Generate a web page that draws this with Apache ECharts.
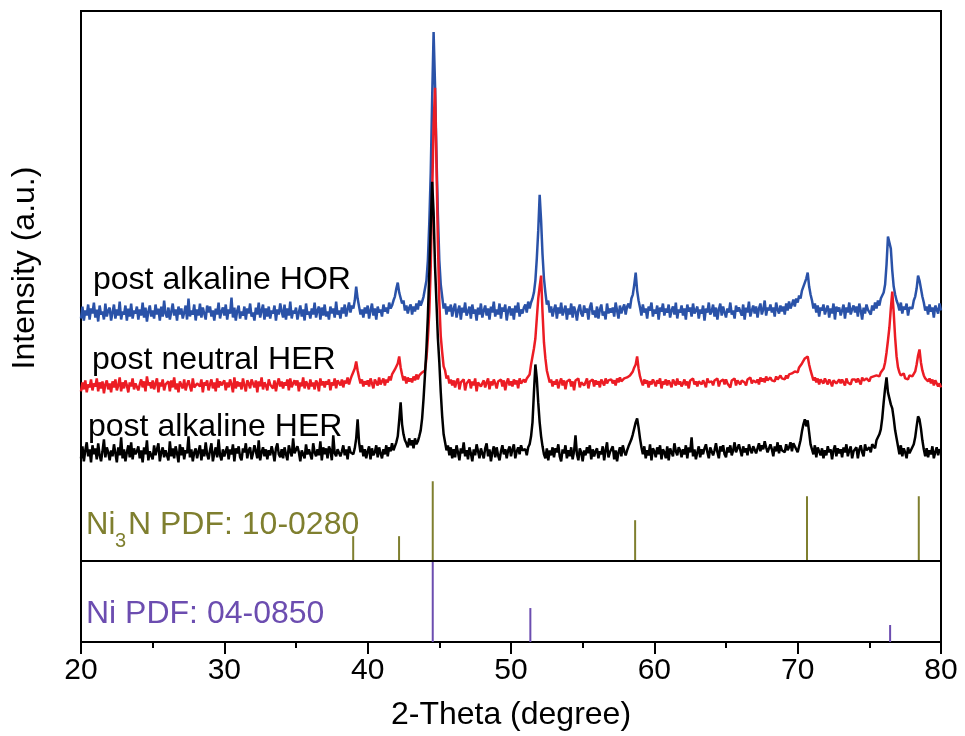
<!DOCTYPE html>
<html>
<head>
<meta charset="utf-8">
<script src="https://cdn.jsdelivr.net/npm/echarts@6/dist/echarts.min.js"></script>
<style>
  html, body { margin: 0; padding: 0; background: #fff; }
  #chart { width: 965px; height: 736px; }
</style>
</head>
<body>
<div id="chart"></div>
<script>
// 2-theta grid of the scans: 20.0 .. 80.0 deg, step 0.1
const X_START = 20;
const X_STEP = 0.1;

// intensities above each trace's own baseline (a.u.), one row per degree
const postAlkalineHOR = [
  4,16,2,12,7,18,3,14,9,20,
  5,13,1,17,8,11,3,19,6,12,
  15,2,10,18,4,13,7,21,3,11,
  8,17,2,14,6,19,4,12,9,16,
  3,13,7,20,5,15,1,11,17,6,
  12,4,18,8,14,2,16,6,22,9,
  5,15,3,11,19,7,13,2,16,8,
  14,4,10,17,3,24,6,12,8,18,
  2,13,7,19,5,15,9,3,17,10,
  16,6,12,2,14,8,20,4,11,15,
  7,18,3,13,9,25,5,15,2,12,
  17,4,11,7,16,3,14,9,19,6,
  10,2,15,8,20,5,12,18,3,14,
  6,16,4,12,9,17,2,13,8,19,
  11,5,18,3,14,7,21,4,12,9,
  15,3,10,17,6,13,2,19,8,11,
  4,14,8,20,5,12,16,3,15,7,
  18,6,11,3,16,9,14,5,21,8,
  12,4,15,9,18,6,13,20,10,17,
  14,22,36,24,16,8,13,5,15,9,
  17,4,12,19,7,14,3,16,10,13,
  6,18,11,15,9,20,14,17,22,26,
  34,40,30,28,19,22,12,17,9,15,
  18,8,16,11,19,13,22,17,21,26,
  28,42,62,100,150,225,291,238,168,108,
  62,38,26,14,19,8,16,11,18,6,
  14,19,5,12,17,3,15,10,20,7,
  11,16,4,18,9,13,2,15,8,19,
  5,12,17,7,14,3,16,10,21,6,
  13,8,19,4,15,11,18,2,12,16,
  7,14,3,17,10,20,6,13,9,15,
  18,10,21,14,20,24,30,42,64,92,
  128,102,68,44,30,18,22,10,16,6,
  13,18,4,15,9,20,7,12,17,3,
  14,8,19,5,16,11,2,13,18,9,
  6,17,10,14,3,15,20,8,12,5,
  16,4,13,18,7,11,3,19,9,14,
  10,15,6,20,12,4,17,9,14,18,
  8,16,19,14,24,28,38,50,32,22,
  15,7,18,10,14,4,16,12,20,6,
  13,9,17,3,15,11,19,7,14,10,
  18,5,12,16,8,20,4,13,10,17,
  7,14,3,18,11,15,6,19,9,12,
  16,4,13,9,17,2,14,10,20,8,
  11,18,6,15,3,13,19,7,16,10,
  5,14,10,20,8,12,4,17,11,15,
  13,7,18,3,15,10,21,6,12,17,
  9,16,5,14,19,8,13,22,7,15,
  12,18,10,15,6,20,13,9,17,11,
  16,8,19,12,21,14,18,23,16,24,
  20,27,24,32,30,40,44,50,36,28,
  22,14,19,10,17,6,15,12,18,8,
  13,17,5,14,9,19,3,16,11,15,
  7,12,18,4,15,10,20,8,13,17,
  10,16,6,19,12,3,15,9,18,13,
  15,8,17,12,20,14,22,17,24,26,
  30,38,58,86,80,74,52,36,28,22,
  18,12,20,9,16,13,19,7,15,17,
  14,22,26,34,47,42,34,26,20,12,
  16,8,18,11,15,5,17,13,9,19,
  12
];

const postNeutralHER = [
  3,12,5,14,2,10,7,15,4,11,
  8,16,3,12,6,13,1,10,14,5,
  11,2,13,7,15,4,9,17,3,12,
  6,14,9,2,12,8,16,5,11,13,
  4,10,15,7,13,3,18,9,12,6,
  14,5,11,16,2,12,8,15,4,10,
  9,13,3,14,7,17,5,11,2,13,
  12,6,15,4,10,14,8,3,16,7,
  5,11,13,8,15,2,12,9,14,4,
  10,15,6,12,3,16,7,13,9,11,
  14,4,12,7,15,10,2,17,6,13,
  8,12,5,16,9,3,14,11,6,15,
  11,7,14,2,13,8,17,5,12,9,
  4,15,10,12,6,14,3,11,16,8,
  13,6,12,9,15,4,16,7,11,14,
  9,14,3,12,8,17,6,13,10,5,
  15,8,12,5,14,11,3,16,9,13,
  7,13,10,15,4,12,9,16,6,14,
  12,9,15,7,14,11,17,10,15,19,
  18,26,33,24,17,11,15,8,13,10,
  14,8,16,11,6,15,12,9,17,10,
  13,16,9,15,12,18,14,20,19,25,
  23,31,38,27,20,14,18,11,17,13,
  16,12,18,14,20,15,19,17,22,21,
  24,36,56,82,128,200,270,307,232,152,
  92,58,42,28,24,16,19,11,15,9,
  14,7,13,16,5,12,10,15,4,11,
  12,15,6,13,9,16,3,12,14,8,
  10,14,7,12,16,5,13,9,15,11,
  6,13,11,15,8,14,4,12,16,9,
  13,8,15,10,14,6,16,11,13,15,
  12,16,14,20,30,38,46,56,76,96,
  108,119,82,52,36,24,18,12,15,8,
  13,10,15,6,12,16,9,14,5,13,
  11,15,8,13,4,14,12,16,7,12,
  14,9,12,16,6,13,11,15,8,14,
  10,13,7,15,12,9,16,11,14,13,
  15,11,14,9,16,12,17,13,15,16,
  14,17,15,19,21,23,27,30,38,26,
  18,13,9,15,11,14,7,13,10,15,
  12,8,14,11,16,6,13,10,15,9,
  14,11,7,15,12,9,16,10,13,8,
  11,15,9,13,6,14,12,16,10,13,
  8,13,15,10,14,11,7,16,12,14,
  13,9,14,12,16,8,13,11,15,10,
  15,11,13,7,14,12,16,9,14,13,
  10,14,16,12,9,15,13,17,11,14,
  14,12,15,10,17,13,16,12,18,14,
  12,17,14,16,13,18,15,14,19,16,
  17,15,19,16,20,18,21,19,23,24,
  22,27,26,31,33,36,35,38,30,24,
  19,14,17,12,16,10,15,13,11,16,
  14,10,15,12,8,14,16,11,13,15,
  11,15,13,9,16,12,14,10,15,13,
  15,12,16,13,10,17,14,12,16,14,
  13,17,15,18,16,19,21,18,22,23,
  26,32,42,54,67,86,103,82,57,38,
  27,22,19,17,21,16,18,15,19,17,
  18,20,23,30,39,45,32,24,19,16,
  17,13,16,11,15,9,14,12,8,11,
  7
];

const postAlkalineHER = [
  6,18,3,14,22,8,15,2,19,10,
  16,5,21,9,3,13,25,7,17,12,
  4,14,8,20,11,2,17,9,27,6,
  15,3,12,19,7,22,5,16,10,13,
  18,6,14,2,17,10,24,4,13,15,
  5,19,9,15,21,3,12,17,7,14,
  13,4,23,8,16,6,18,11,2,20,
  9,17,5,14,11,28,7,15,3,12,
  16,6,13,19,4,15,8,22,10,5,
  14,21,3,11,17,7,25,9,4,15,
  8,13,18,5,15,10,20,3,16,11,
  18,7,4,16,12,21,6,14,17,5,
  11,19,13,6,24,4,12,17,8,15,
  5,14,9,18,12,3,16,21,10,7,
  15,6,17,10,4,19,13,8,26,11,
  9,18,12,3,14,16,6,20,10,15,
  13,5,21,12,8,15,9,23,4,17,
  10,16,6,18,14,4,29,11,8,15,
  17,8,13,19,9,15,5,18,12,14,
  10,16,26,45,22,12,19,8,15,6,
  13,18,5,16,9,12,19,7,17,11,
  6,15,10,19,8,17,13,21,14,18,
  22,28,44,62,40,30,24,21,17,26,
  19,24,16,26,20,23,28,34,46,66,
  90,116,148,192,238,283,252,198,162,126,
  102,72,48,30,22,14,19,9,17,6,
  15,7,19,12,4,16,11,22,8,14,
  5,17,11,3,15,9,20,13,6,16,
  14,6,16,21,8,15,3,12,18,7,
  17,9,4,13,19,10,15,6,14,18,
  8,15,20,6,13,17,10,19,14,12,
  15,9,17,20,28,42,72,100,86,62,
  42,28,18,10,6,16,4,14,9,17,
  7,16,12,20,8,3,15,11,19,6,
  14,8,17,5,13,29,10,4,16,12,
  3,14,9,17,11,19,5,15,8,13,
  16,6,13,10,18,4,14,22,7,12,
  10,18,5,14,3,12,17,8,19,13,
  9,14,18,20,25,30,36,42,46,37,
  26,17,10,18,6,14,9,20,4,16,
  13,7,17,10,19,5,15,12,6,18,
  4,16,12,8,21,13,9,17,14,7,
  15,10,19,6,17,12,27,8,15,5,
  12,18,7,15,10,16,20,12,6,17,
  16,9,14,21,12,6,18,13,19,10,
  7,17,12,19,9,14,22,12,16,20,
  14,8,18,12,16,9,20,15,11,18,
  18,11,16,21,13,19,15,23,17,12,
  10,20,15,8,18,13,22,11,19,14,
  16,12,20,14,17,22,13,21,18,15,
  12,18,24,33,40,45,38,44,32,20,
  15,10,19,7,17,13,9,16,6,14,
  9,18,12,15,5,14,19,8,16,11,
  15,7,17,12,20,8,14,18,6,13,
  11,17,6,15,19,12,8,20,14,16,
  17,12,20,22,16,24,27,30,35,46,
  62,76,87,72,66,60,56,46,34,26,
  18,10,19,8,16,12,6,17,11,14,
  12,20,27,38,48,45,36,24,15,8,
  16,7,14,10,18,6,12,17,9,15,
  12
];

// vertical stacking offsets of the three scans (a.u.)
const offsetHOR = 320;
const offsetNeutral = 248;
const offsetAlkaline = 178;

// reference patterns: peak positions (2-theta) and stick heights (a.u.)
const ni3nPeaks = [38.99, 42.19, 44.54, 58.66, 70.65, 78.45];
const ni3nHeights = [25, 25, 80, 41, 65, 65];
const ni3nBase = 81;
const niPeaks = [44.54, 51.35, 76.45];
const niHeights = [81, 34, 17];
const niBase = 0;

const xTicks = [20, 30, 40, 50, 60, 70, 80];

const toSeries = (vals, offset) =>
    vals.map((v, i) => [+(X_START + i * X_STEP).toFixed(1), v + offset]);

const stickRender = (params, api) => {
    const x = api.value(0);
    const b = api.value(1);
    const h = api.value(2);
    const p0 = api.coord([x, b]);
    const p1 = api.coord([x, b + h]);
    return {
        type: 'line',
        shape: { x1: p0[0], y1: p0[1], x2: p1[0], y2: p1[1] },
        style: { stroke: api.visual('color'), lineWidth: 2 },
    };
};

const FONT = 'Liberation Sans, Arial, sans-serif';
const chart = echarts.init(document.getElementById('chart'), null, { renderer: 'canvas' });

const option = {
    animation: false,
    backgroundColor: '#fff',
    grid: {
        left: 81,
        right: 24,
        top: 11,
        bottom: 93,
        show: true,
        borderColor: '#000',
        borderWidth: 2,
    },
    xAxis: {
        type: 'value',
        min: xTicks[0],
        max: xTicks[xTicks.length - 1],
        interval: 10,
        axisLine: { lineStyle: { color: '#000', width: 2 } },
        axisTick: { length: 12, lineStyle: { color: '#000', width: 2 } },
        minorTick: { show: true, splitNumber: 2, length: 6, lineStyle: { color: '#000', width: 2 } },
        axisLabel: { color: '#000', fontSize: 30, fontFamily: FONT, margin: 14 },
        splitLine: { show: false },
        name: '2-Theta (degree)',
        nameLocation: 'middle',
        nameGap: 57,
        nameTextStyle: { color: '#000', fontSize: 32, fontFamily: FONT },
    },
    yAxis: {
        type: 'value',
        min: 0,
        max: 632,
        axisLine: { show: true, lineStyle: { color: '#000', width: 2 } },
        axisTick: { show: false },
        axisLabel: { show: false },
        splitLine: { show: false },
    },
    series: [
        {
            name: 'post alkaline HOR',
            type: 'line',
            data: toSeries(postAlkalineHOR, offsetHOR),
            showSymbol: false,
            lineStyle: { color: '#2a52a8', width: 2.5 },
            itemStyle: { color: '#2a52a8' },
        },
        {
            name: 'post neutral HER',
            type: 'line',
            data: toSeries(postNeutralHER, offsetNeutral),
            showSymbol: false,
            lineStyle: { color: '#ec1c24', width: 2.5 },
            itemStyle: { color: '#ec1c24' },
        },
        {
            name: 'post alkaline HER',
            type: 'line',
            data: toSeries(postAlkalineHER, offsetAlkaline),
            showSymbol: false,
            lineStyle: { color: '#000', width: 2.5 },
            itemStyle: { color: '#000' },
        },
        {
            name: 'Ni3N',
            type: 'custom',
            renderItem: stickRender,
            itemStyle: { color: '#7f7f2f' },
            data: ni3nPeaks.map((p, i) => [p, ni3nBase, ni3nHeights[i]]),
            markLine: {
                silent: true,
                symbol: ['none', 'none'],
                label: { show: false },
                lineStyle: { color: '#000', width: 2, type: 'solid' },
                data: [{ yAxis: ni3nBase }],
            },
        },
        {
            name: 'Ni',
            type: 'custom',
            renderItem: stickRender,
            itemStyle: { color: '#6c4db0' },
            data: niPeaks.map((p, i) => [p, niBase, niHeights[i]]),
        },
    ],
    graphic: [
        {
            type: 'text', x: 25, y: 268, rotation: Math.PI / 2,
            style: { text: 'Intensity (a.u.)', fill: '#000', fontSize: 32, fontFamily: FONT, align: 'center', verticalAlign: 'middle' },
        },
        {
            type: 'text', x: 93, y: 280,
            style: { text: 'post alkaline HOR', fill: '#000', fontSize: 32, fontFamily: FONT, verticalAlign: 'middle' },
        },
        {
            type: 'text', x: 92, y: 360,
            style: { text: 'post neutral HER', fill: '#000', fontSize: 32, fontFamily: FONT, verticalAlign: 'middle' },
        },
        {
            type: 'text', x: 88, y: 427,
            style: { text: 'post alkaline HER', fill: '#000', fontSize: 32, fontFamily: FONT, verticalAlign: 'middle' },
        },
        {
            type: 'text', x: 86, y: 525,
            style: { text: 'Ni', fill: '#7f7f2f', fontSize: 31, fontFamily: FONT, verticalAlign: 'middle' },
        },
        {
            type: 'text', x: 115, y: 541,
            style: { text: '3', fill: '#7f7f2f', fontSize: 20, fontFamily: FONT, verticalAlign: 'middle' },
        },
        {
            type: 'text', x: 128, y: 525,
            style: { text: 'N PDF: 10-0280', fill: '#7f7f2f', fontSize: 32, fontFamily: FONT, verticalAlign: 'middle' },
        },
        {
            type: 'text', x: 86, y: 614,
            style: { text: 'Ni PDF: 04-0850', fill: '#6c4db0', fontSize: 32, fontFamily: FONT, verticalAlign: 'middle' },
        },
    ],
};

chart.setOption(option);
window.addEventListener('resize', () => chart.resize());
</script>
</body>
</html>
